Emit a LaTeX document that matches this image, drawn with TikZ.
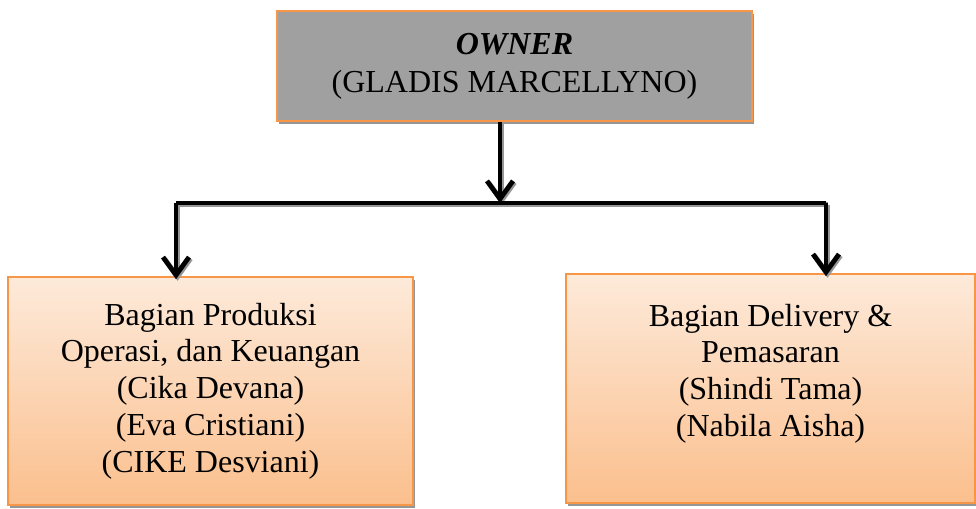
\documentclass[tikz,border=0pt]{standalone}
\usepackage{fontspec}
\setmainfont{Liberation Serif}
\usetikzlibrary{arrows.meta,shadows}
\definecolor{bordo}{RGB}{247,150,70}
\definecolor{ownergray}{RGB}{160,160,160}
\definecolor{shade}{RGB}{150,150,150}
\definecolor{peachtop}{RGB}{253,234,218}
\definecolor{peachbot}{RGB}{251,191,141}
\tikzstyle{unit}=[rectangle, draw=bordo, line width=0.8pt, inner sep=0pt, align=center,
    font=\fontsize{16}{18.4}\selectfont,
    drop shadow={shadow xshift=0.75pt, shadow yshift=-1.5pt, fill=shade, opacity=1}]
\tikzstyle{head}=[unit, fill=ownergray, font=\fontsize{16}{19}\selectfont]
\tikzstyle{dept}=[unit, top color=peachtop, bottom color=peachbot]
\tikzstyle{link}=[line width=2.4pt, preaction={draw=shade, line width=2.4pt, transform canvas={shift={(0.8pt,-0.8pt)}}}]
\tikzstyle{tip}=[-{Straight Barb[length=9pt,width=13pt]}]

\begin{document}
\begin{tikzpicture}[x=0.5pt,y=-0.5pt]
            \useasboundingbox (0,0) rectangle (976,509);
            \node[head, minimum width=237.5pt, minimum height=55pt] at (514.5,66) (owner)
                {\textbf{\textit{OWNER}}\\(GLADIS MARCELLYNO)};
            \node[dept, minimum width=202.5pt, minimum height=114pt] at (210.5,391) (prod)
                {Bagian Produksi\\Operasi, dan Keuangan\\(Cika Devana)\\(Eva Cristiani)\\(CIKE Desviani)};
            \node[dept, minimum width=204.5pt, minimum height=114.5pt] at (770.5,388.5) (deliv)
                {Bagian Delivery \&\\Pemasaran\\(Shindi Tama)\\(Nabila Aisha)\\\mbox{}};
            \coordinate (hub) at (500,203);
            \coordinate (hl) at (176,203);
            \coordinate (hr) at (826,203);
            \draw[link, tip] (owner.south -| hub) -- (hub);
            \draw[link] (hl) -- (hr);
            \draw[link, tip] (hl) -- ([yshift=-1.5pt]prod.north -| hl);
            \draw[link, tip] (hr) -- ([yshift=-1.5pt]deliv.north -| hr);
\end{tikzpicture}
\end{document}
